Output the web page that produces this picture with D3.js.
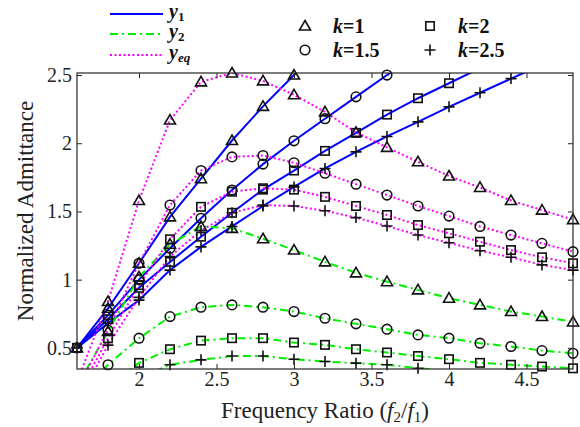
<!DOCTYPE html>
<html>
<head>
<meta charset="utf-8">
<script src="https://cdn.jsdelivr.net/npm/d3@7"></script>
<style>
  html, body { margin: 0; padding: 0; background: #fff; }
  svg { display: block; font-family: "Liberation Serif", "Times New Roman", serif; }
</style>
</head>
<body>
<svg id="chart" width="580" height="427"></svg>
<script>
// ---------- data ----------
const freqRatio = [1.6, 1.8, 2.0, 2.2, 2.4, 2.6, 2.8, 3.0, 3.2, 3.4, 3.6, 3.8, 4.0, 4.2, 4.4, 4.6, 4.8];
const kValues = ["1", "1.5", "2", "2.5"];
const xTicks = [2, 2.5, 3, 3.5, 4, 4.5];
const yTicks = [0.5, 1, 1.5, 2, 2.5];
const xLimits = [1.6, 4.8];
const yLimits = [0.345, 2.515];

// y1 (solid blue)
const y1_k1   = [0.5, 0.79, 1.12, 1.46, 1.74, 2.02, 2.27, 2.5, 2.72, null, null, null, null, null, null, null, null];
const y1_k15  = [0.5, 0.74, 1.0, 1.23, 1.45, 1.657, 1.847, 2.018, 2.18, 2.34, 2.5, 2.65, null, null, null, null, null];
const y1_k2   = [0.5, 0.71, 0.94, 1.13, 1.315, 1.49, 1.66, 1.80, 1.944, 2.076, 2.21, 2.33, 2.44, 2.55, null, null, null];
const y1_k25  = [0.5, 0.68, 0.85, 1.07, 1.24, 1.39, 1.54, 1.68, 1.815, 1.937, 2.05, 2.157, 2.267, 2.37, 2.474, 2.575, null];
// y2 (green dash-dot)
const y2_k1   = [0.22, 0.62, 1.02, 1.26, 1.39, 1.376, 1.30, 1.217, 1.13, 1.05, 0.985, 0.925, 0.864, 0.815, 0.766, 0.73, 0.69];
const y2_k15  = [0.15, 0.376, 0.571, 0.729, 0.798, 0.815, 0.798, 0.766, 0.717, 0.676, 0.637, 0.595, 0.571, 0.534, 0.51, 0.48, 0.46];
const y2_k2   = [0.05, 0.22, 0.39, 0.49, 0.553, 0.571, 0.571, 0.539, 0.522, 0.49, 0.466, 0.44, 0.417, 0.39, 0.376, 0.363, 0.35];
const y2_k25  = [0.0, 0.15, 0.28, 0.376, 0.412, 0.44, 0.44, 0.417, 0.40, 0.388, 0.376, 0.351, 0.33, 0.31, 0.295, 0.28, 0.27];
// yeq (magenta dotted)
const yeq_k1  = [0.25, 0.84, 1.58, 2.17, 2.45, 2.515, 2.457, 2.355, 2.23, 2.08, 1.97, 1.864, 1.76, 1.676, 1.58, 1.51, 1.44];
const yeq_k15 = [0.2, 0.63, 1.12, 1.547, 1.80, 1.90, 1.91, 1.857, 1.78, 1.70, 1.62, 1.54, 1.466, 1.39, 1.327, 1.266, 1.205];
const yeq_k2  = [0.15, 0.57, 0.96, 1.296, 1.534, 1.645, 1.67, 1.66, 1.607, 1.54, 1.474, 1.40, 1.34, 1.278, 1.217, 1.164, 1.12];
const yeq_k25 = [0.1, 0.52, 0.87, 1.17, 1.36, 1.49, 1.547, 1.54, 1.505, 1.455, 1.393, 1.327, 1.27, 1.212, 1.164, 1.108, 1.07];

const seriesNames = ["y1", "y2", "yeq"];
const markerShapes = ["triangle", "circle", "square", "plus"];

// ---------- layout ----------
const svg = d3.select("#chart");
const plot = { left: 77, right: 573, top: 73, bottom: 369 };

const x = d3.scaleLinear().domain(xLimits).range([plot.left, plot.right]);
const y = d3.scaleLinear().domain(yLimits).range([plot.bottom, plot.top]);

const styles = {
  y1:  { color: "#0000ff", dash: null, width: 2 },
  y2:  { color: "#00f000", dash: "8,4,2,4", width: 2 },
  yeq: { color: "#ff00ff", dash: "2,2.5", width: 2 }
};

const seriesData = [
  { name: "y1",  k: 0, values: y1_k1 },  { name: "y1",  k: 1, values: y1_k15 },
  { name: "y1",  k: 2, values: y1_k2 },  { name: "y1",  k: 3, values: y1_k25 },
  { name: "y2",  k: 0, values: y2_k1 },  { name: "y2",  k: 1, values: y2_k15 },
  { name: "y2",  k: 2, values: y2_k2 },  { name: "y2",  k: 3, values: y2_k25 },
  { name: "yeq", k: 0, values: yeq_k1 }, { name: "yeq", k: 1, values: yeq_k15 },
  { name: "yeq", k: 2, values: yeq_k2 }, { name: "yeq", k: 3, values: yeq_k25 }
];

svg.append("defs").append("clipPath").attr("id", "plotclip")
  .append("rect")
  .attr("x", plot.left).attr("y", plot.top)
  .attr("width", plot.right - plot.left).attr("height", plot.bottom - plot.top);

// ---------- lines ----------
const line = d3.line()
  .defined(d => d.v !== null)
  .x(d => x(d.f)).y(d => y(d.v));

const gLines = svg.append("g").attr("clip-path", "url(#plotclip)");
seriesData.forEach(s => {
  const pts = freqRatio.map((f, i) => ({ f, v: s.values[i] }));
  const st = styles[s.name];
  gLines.append("path")
    .datum(pts)
    .attr("d", line)
    .attr("fill", "none")
    .attr("stroke", st.color)
    .attr("stroke-width", st.width)
    .attr("stroke-dasharray", st.dash);
});

// ---------- markers ----------
function drawMarker(g, shape, cx, cy) {
  const stroke = "#111", sw = 1.6;
  if (shape === "triangle") {
    g.append("path")
      .attr("d", `M${cx},${cy - 5.5}L${cx + 5.5},${cy + 4}L${cx - 5.5},${cy + 4}Z`)
      .attr("fill", "none").attr("stroke", stroke).attr("stroke-width", sw);
  } else if (shape === "circle") {
    g.append("circle").attr("cx", cx).attr("cy", cy).attr("r", 4.8)
      .attr("fill", "none").attr("stroke", stroke).attr("stroke-width", sw);
  } else if (shape === "square") {
    g.append("rect").attr("x", cx - 4.2).attr("y", cy - 4.2).attr("width", 8.4).attr("height", 8.4)
      .attr("fill", "none").attr("stroke", stroke).attr("stroke-width", sw);
  } else if (shape === "plus") {
    g.append("path")
      .attr("d", `M${cx - 5.5},${cy}H${cx + 5.5}M${cx},${cy - 5.5}V${cy + 5.5}`)
      .attr("fill", "none").attr("stroke", stroke).attr("stroke-width", sw);
  }
}

const gMarks = svg.append("g");
seriesData.forEach(s => {
  freqRatio.forEach((f, i) => {
    const v = s.values[i];
    if (v === null) return;
    if (v < yLimits[0] - 0.005 || v > yLimits[1] + 0.005) return;
    drawMarker(gMarks, markerShapes[s.k], x(f), y(v));
  });
});

// ---------- axes ----------
const axisColor = "#262626";
const tickFont = 20;

const gx = svg.append("g").attr("transform", `translate(0,${plot.bottom})`)
  .call(d3.axisBottom(x).tickValues(xTicks).tickSizeInner(-5).tickSizeOuter(0).tickPadding(3)
    .tickFormat(d3.format("")));
const gxt = svg.append("g").attr("transform", `translate(0,${plot.top})`)
  .call(d3.axisTop(x).tickValues(xTicks).tickSizeInner(-5).tickSizeOuter(0).tickFormat(""));
const gy = svg.append("g").attr("transform", `translate(${plot.left},0)`)
  .call(d3.axisLeft(y).tickValues(yTicks).tickSizeInner(-5).tickSizeOuter(0).tickPadding(5)
    .tickFormat(d3.format("")));
const gyr = svg.append("g").attr("transform", `translate(${plot.right},0)`)
  .call(d3.axisRight(y).tickValues(yTicks).tickSizeInner(-5).tickSizeOuter(0).tickFormat(""));

[gx, gxt, gy, gyr].forEach(g => {
  g.select(".domain").remove();
  g.selectAll(".tick line").attr("stroke", axisColor).attr("stroke-width", 1);
  g.selectAll(".tick text")
    .attr("font-family", "'Liberation Serif', 'Times New Roman', serif")
    .attr("font-size", tickFont).attr("fill", "#222");
});

svg.append("rect")
  .attr("x", plot.left).attr("y", plot.top)
  .attr("width", plot.right - plot.left).attr("height", plot.bottom - plot.top)
  .attr("fill", "none").attr("stroke", axisColor).attr("stroke-width", 1.2);

// axis labels
const xl = svg.append("text")
  .attr("x", (plot.left + plot.right) / 2).attr("y", 418)
  .attr("text-anchor", "middle").attr("font-size", 23).attr("fill", "#222");
xl.append("tspan").text("Frequency Ratio (");
xl.append("tspan").attr("font-style", "italic").text("f");
xl.append("tspan").attr("font-size", 15).attr("dy", 4).text("2");
xl.append("tspan").attr("dy", -4).text("/");
xl.append("tspan").attr("font-style", "italic").text("f");
xl.append("tspan").attr("font-size", 15).attr("dy", 4).text("1");
xl.append("tspan").attr("dy", -4).text(")");

svg.append("text")
  .attr("transform", `translate(33,211) rotate(-90)`)
  .attr("text-anchor", "middle").attr("font-size", 23).attr("fill", "#222")
  .text("Normalized Admittance");

// ---------- legends ----------
const legLines = svg.append("g");
const legY = [14, 34, 55];
const legSub = ["1", "2", "eq"];
seriesNames.forEach((n, i) => {
  const st = styles[n];
  legLines.append("line")
    .attr("x1", 110).attr("x2", 163).attr("y1", legY[i]).attr("y2", legY[i])
    .attr("stroke", st.color).attr("stroke-width", st.width)
    .attr("stroke-dasharray", st.dash);
  const t = legLines.append("text")
    .attr("x", 169).attr("y", legY[i] + 4)
    .attr("font-size", 20).attr("font-weight", "bold").attr("fill", "#111");
  t.append("tspan").attr("font-style", "italic").text("y");
  t.append("tspan").attr("font-size", 13).attr("dy", 3)
    .attr("font-style", i === 2 ? "italic" : "normal").text(legSub[i]);
});

const legK = svg.append("g");
const kPos = [
  { mx: 305, my: 26 }, { mx: 305, my: 50 },
  { mx: 430, my: 26 }, { mx: 430, my: 50 }
];
kValues.forEach((kv, i) => {
  const p = kPos[i];
  drawMarker(legK, markerShapes[i], p.mx, p.my);
  const t = legK.append("text")
    .attr("x", p.mx + 28).attr("y", p.my + 7)
    .attr("font-size", 20).attr("font-weight", "bold").attr("fill", "#111");
  t.append("tspan").attr("font-style", "italic").text("k");
  t.append("tspan").text("=" + kv);
});
</script>
</body>
</html>
